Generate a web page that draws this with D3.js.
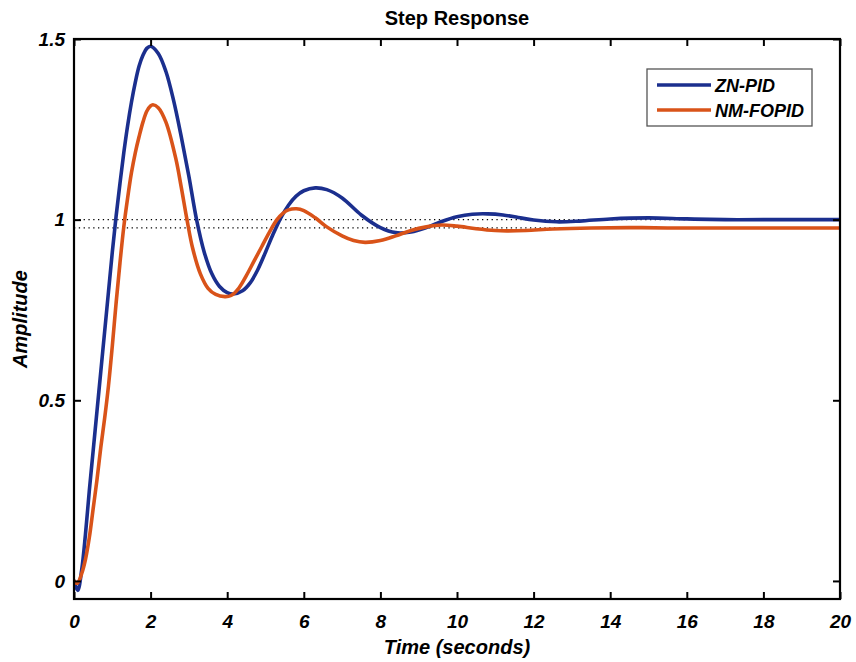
<!DOCTYPE html>
<html>
<head>
<meta charset="utf-8">
<script src="https://cdn.jsdelivr.net/npm/d3@7"></script>
<style>
body{margin:0;background:#fff;}
svg{display:block;}
text{font-family:"Liberation Sans",Arial,sans-serif;}
</style>
</head>
<body>
<svg id="chart" width="856" height="662"></svg>
<script>
const title = "Step Response";
const xLabel = "Time (seconds)";
const yLabel = "Amplitude";
const seriesNames = ["ZN-PID", "NM-FOPID"];
const seriesColors = ["#1b2f8e", "#d95319"];
const xTicks = [0,2,4,6,8,10,12,14,16,18,20];
const yTicks = [0,0.5,1,1.5];
const yTickLabels = ["0","0.5","1","1.5"];
const steadyStates = [1.0, 0.977];

const znT = [0,0.05,0.1,0.2,0.3,0.4,0.5,0.6,0.7,0.8,0.9,1.0,1.1,1.2,1.3,1.4,1.5,1.6,1.7,1.8,1.9,2.0,2.2,2.4,2.6,2.8,3.0,3.2,3.4,3.6,3.8,4.0,4.16,4.4,4.6,4.8,5.0,5.2,5.4,5.6,5.8,6.0,6.3,6.6,7.0,7.5,8.0,8.4,8.8,9.2,9.6,10.0,10.4,10.8,11.2,11.6,12.0,12.6,13.2,14.0,15.0,16.0,17.0,18.0,20.0];
const znY = [0,-0.018,-0.026,0.03,0.13,0.25,0.36,0.47,0.58,0.69,0.80,0.91,1.01,1.10,1.185,1.26,1.325,1.38,1.425,1.455,1.474,1.48,1.46,1.41,1.33,1.23,1.12,1.00,0.91,0.85,0.815,0.798,0.794,0.803,0.825,0.862,0.91,0.96,1.005,1.04,1.065,1.08,1.088,1.083,1.06,1.013,0.978,0.964,0.966,0.978,0.995,1.008,1.015,1.016,1.013,1.006,0.999,0.994,0.996,1.002,1.005,1.002,1.0,1.0,1.0];

const nmT = [0,0.05,0.1,0.2,0.3,0.4,0.5,0.6,0.7,0.8,0.9,1.0,1.1,1.2,1.3,1.4,1.5,1.6,1.7,1.8,1.9,2.0,2.06,2.2,2.4,2.66,2.8,2.95,3.1,3.3,3.5,3.7,3.94,4.1,4.3,4.5,4.7,4.9,5.1,5.3,5.46,5.6,5.81,6.0,6.3,6.6,7.0,7.3,7.6,8.0,8.4,8.8,9.2,9.6,10.0,10.5,11.0,11.3,11.8,12.5,13.5,14.5,15.5,17.0,20.0];
const nmY = [0,-0.006,-0.005,0.02,0.06,0.12,0.2,0.28,0.37,0.45,0.54,0.65,0.77,0.88,0.98,1.06,1.13,1.185,1.23,1.27,1.30,1.315,1.318,1.31,1.27,1.168,1.09,1.0,0.92,0.85,0.81,0.793,0.787,0.79,0.81,0.845,0.885,0.925,0.965,1.0,1.018,1.027,1.03,1.025,1.005,0.98,0.955,0.942,0.937,0.942,0.955,0.97,0.98,0.985,0.982,0.975,0.97,0.969,0.97,0.974,0.977,0.978,0.977,0.977,0.977];

const svg = d3.select("#chart");
const L = 74, R = 840, T = 39, B = 599;
const x = d3.scaleLinear().domain([0,20]).range([L,R]);
const y = d3.scaleLinear().domain([-0.05,1.5]).range([B,T]);

// steady-state dotted lines
svg.selectAll(".ss").data(steadyStates).enter().append("line")
  .attr("x1", L).attr("x2", R)
  .attr("y1", d=>y(d)).attr("y2", d=>y(d))
  .attr("stroke","#000").attr("stroke-width",1.2).attr("stroke-dasharray","1.3,3.5");

const line = d3.line().x(d=>x(d[0])).y(d=>y(d[1])).curve(d3.curveCatmullRom.alpha(0.5));
const series = [d3.zip(znT, znY), d3.zip(nmT, nmY)];
svg.append("clipPath").attr("id","clip").append("rect")
  .attr("x",L).attr("y",T).attr("width",R-L).attr("height",B-T);
svg.append("g").attr("clip-path","url(#clip)").selectAll("path").data(series).enter().append("path")
  .attr("d", line).attr("fill","none")
  .attr("stroke",(d,i)=>seriesColors[i]).attr("stroke-width",3.6)
  .attr("stroke-linejoin","round").attr("stroke-linecap","round");

// axes box
const tl = 7;
const axB = svg.append("g").attr("transform",`translate(0,${B})`)
  .call(d3.axisBottom(x).tickValues(xTicks).tickSize(-tl).tickFormat(d3.format("d")).tickPadding(16));
const axT = svg.append("g").attr("transform",`translate(0,${T})`)
  .call(d3.axisTop(x).tickValues(xTicks).tickSize(-tl).tickFormat(""));
const axL = svg.append("g").attr("transform",`translate(${L},0)`)
  .call(d3.axisLeft(y).tickValues(yTicks).tickSize(-tl).tickFormat((d,i)=>yTickLabels[i]).tickPadding(9));
const axR = svg.append("g").attr("transform",`translate(${R},0)`)
  .call(d3.axisRight(y).tickValues(yTicks).tickSize(-tl).tickFormat(""));
[axB,axT,axL,axR].forEach(a=>{
  a.select(".domain").remove();
  a.selectAll(".tick line").attr("stroke","#000").attr("stroke-width",2);
  a.selectAll("text").attr("fill","#000").style("font-size","19px").style("font-weight","bold").style("font-style","italic");
});
svg.append("rect").attr("x",L).attr("y",T).attr("width",R-L).attr("height",B-T)
  .attr("fill","none").attr("stroke","#000").attr("stroke-width",2.2);

// title and labels
svg.append("text").attr("x",(L+R)/2).attr("y",25).attr("text-anchor","middle")
  .style("font-size","20px").style("font-weight","bold").text(title);
svg.append("text").attr("x",(L+R)/2).attr("y",654).attr("text-anchor","middle")
  .style("font-size","20px").style("font-weight","bold").style("font-style","italic").text(xLabel);
svg.append("text").attr("transform",`translate(27,${(T+B)/2}) rotate(-90)`).attr("text-anchor","middle")
  .style("font-size","20px").style("font-weight","bold").style("font-style","italic").text(yLabel);

// legend
const lg = svg.append("g");
lg.append("rect").attr("x",647).attr("y",69).attr("width",165).attr("height",57)
  .attr("fill","#fff").attr("stroke","#555").attr("stroke-width",1.3);
seriesNames.forEach((n,i)=>{
  const yy = 85 + i*25;
  lg.append("line").attr("x1",657).attr("x2",711).attr("y1",yy).attr("y2",yy)
    .attr("stroke",seriesColors[i]).attr("stroke-width",3.6);
  lg.append("text").attr("x",715).attr("y",yy+6.5).style("font-size","18px")
    .style("font-weight","bold").style("font-style","italic").text(n);
});
</script>
</body>
</html>
